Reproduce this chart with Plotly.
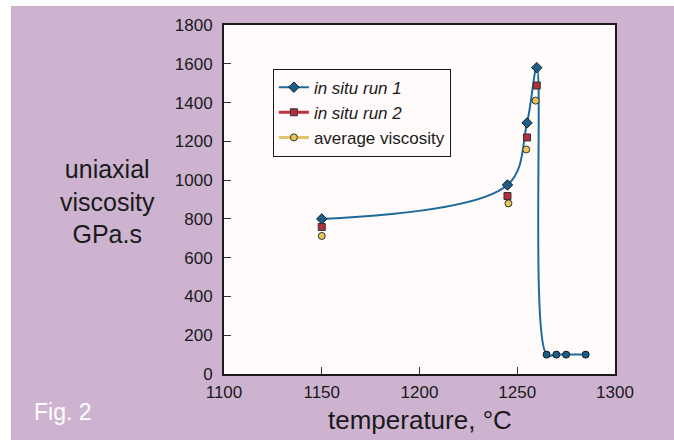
import plotly.graph_objects as go

# Data
temp_run1 = [1150, 1245, 1255, 1260, 1265, 1270, 1275, 1285]
visc_run1 = [800, 975, 1295, 1580, 100, 100, 100, 100]
temp_run2 = [1150, 1245, 1255, 1260]
visc_run2 = [758, 918, 1220, 1488]
temp_avg = [1150, 1245.5, 1254.6, 1259.4]
visc_avg = [712, 880, 1158, 1410]

x_ticks = [1100, 1150, 1200, 1250, 1300]
y_ticks = [0, 200, 400, 600, 800, 1000, 1200, 1400, 1600, 1800]

BLUE = "#1F6A99"
BLUE_M = "#1A5E8A"
RED = "#C0313F"
RED_M = "#B0303C"
YEL = "#E0C56C"
YEL_M = "#E8C55A"
PURPLE = "#CDB3CF"
FONT = "Liberation Sans, Arial, sans-serif"

# run 1 marker styles: diamonds on the peak branch, dots once it has melted
run1_symbols = ["diamond", "diamond", "diamond", "diamond", "circle", "circle", "circle", "circle"]
run1_sizes = [8, 8, 8, 8, 7, 7, 7, 7]

fig = go.Figure()

# Actual data traces
fig.add_trace(go.Scatter(x=temp_run1, y=visc_run1, mode="lines+markers",
                         line=dict(color=BLUE, width=2, shape="spline", smoothing=1.0),
                         marker=dict(symbol=run1_symbols, size=run1_sizes, color=BLUE_M,
                                     opacity=1, line=dict(color="#1a1a1a", width=1)),
                         showlegend=False))
fig.add_trace(go.Scatter(x=temp_run2, y=visc_run2, mode="markers",
                         marker=dict(symbol="square", size=7, color=RED_M,
                                     line=dict(color="#333333", width=1)),
                         showlegend=False))
fig.add_trace(go.Scatter(x=temp_avg, y=visc_avg, mode="markers",
                         marker=dict(symbol="circle", size=7, color=YEL_M,
                                     line=dict(color="#333333", width=1)),
                         showlegend=False))

# Legend entries
fig.add_trace(go.Scatter(x=[None], y=[None], mode="lines+markers", name="<i>in situ run 1</i>",
                         line=dict(color=BLUE, width=2),
                         marker=dict(symbol="diamond", size=8, color=BLUE_M,
                                     line=dict(color="#1a1a1a", width=1))))
fig.add_trace(go.Scatter(x=[None], y=[None], mode="lines+markers", name="<i>in situ run 2</i>",
                         line=dict(color=RED, width=3),
                         marker=dict(symbol="square", size=7, color=RED_M,
                                     line=dict(color="#333333", width=1))))
fig.add_trace(go.Scatter(x=[None], y=[None], mode="lines+markers", name="average viscosity",
                         line=dict(color=YEL, width=3),
                         marker=dict(symbol="circle", size=7, color=YEL_M,
                                     line=dict(color="#333333", width=1))))

axis_common = dict(showline=True, linecolor="#1a1a1a", linewidth=2, mirror=True,
                   ticks="inside", ticklen=7, tickwidth=1, tickcolor="#333333",
                   showgrid=False, zeroline=False,
                   tickfont=dict(family=FONT, size=17, color="#1a1a1a"))

fig.update_xaxes(range=[1100, 1300], tickvals=x_ticks, ticklabelstandoff=2, **axis_common)
fig.update_yaxes(range=[0, 1800], tickvals=y_ticks, ticklabelstandoff=6, **axis_common)

fig.update_layout(
    width=674, height=440,
    margin=dict(l=224, r=59, t=25, b=66),
    paper_bgcolor=PURPLE,
    plot_bgcolor="#FFFBFB",
    font=dict(family=FONT, color="#1a1a1a"),
    legend=dict(x=0.125, y=0.875, xanchor="left", yanchor="top",
                bgcolor="#FFFBFB", bordercolor="#1a1a1a", borderwidth=1,
                font=dict(family=FONT, size=17, color="#1a1a1a"),
                tracegroupgap=0, itemsizing="trace"),
    shapes=[
        dict(type="rect", xref="paper", yref="paper", x0=-1, x1=1.5,
             y0=(374 - 6) / 349, y1=1.2, fillcolor="white", line=dict(width=0), layer="above"),
        dict(type="rect", xref="paper", yref="paper", x0=-1, x1=(11 - 224) / 391,
             y0=-0.5, y1=1.2, fillcolor="white", line=dict(width=0), layer="above"),
    ],
    annotations=[
        dict(text="uniaxial<br>viscosity<br>GPa.s", xref="paper", yref="paper",
             x=(107 - 224) / 391, y=(374 - 201) / 349, xanchor="center", yanchor="middle",
             showarrow=False, align="center",
             font=dict(family=FONT, size=25, color="#1a1a1a")),
        dict(text="temperature, °C", xref="paper", yref="paper",
             x=0.5, y=(374 - 420) / 349, xanchor="center", yanchor="middle",
             showarrow=False, font=dict(family=FONT, size=26, color="#1a1a1a")),
        dict(text="Fig. 2", xref="paper", yref="paper",
             x=(32 - 224) / 391, y=(374 - 412) / 349, xanchor="left", yanchor="middle",
             showarrow=False, font=dict(family=FONT, size=23, color="white")),
    ],
)

fig.write_html("out.html", config={"displayModeBar": False},
               post_script="document.body.style.margin='0';")
